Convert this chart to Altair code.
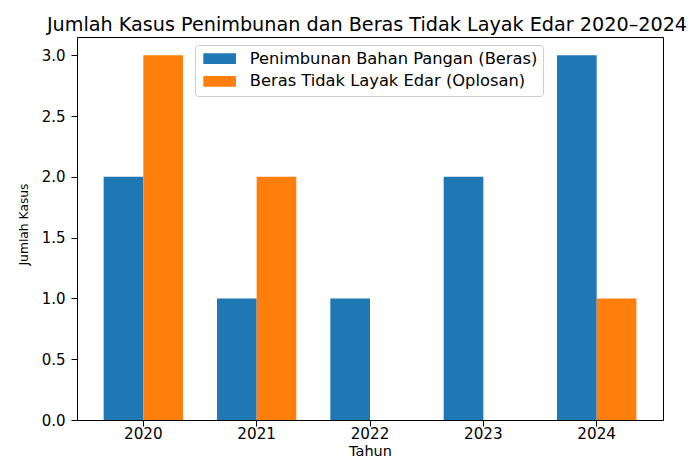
import altair as alt
import pandas as pd

years = ["2020", "2021", "2022", "2023", "2024"]
series_names = ["Penimbunan Bahan Pangan (Beras)", "Beras Tidak Layak Edar (Oplosan)"]
penimbunan = [2, 1, 1, 2, 3]
oplosan = [3, 2, 0, 0, 1]
colors = ["#1f77b4", "#ff7f0e"]
y_ticks = [0, 0.5, 1, 1.5, 2, 2.5, 3]

rows = []
for i, y in enumerate(years):
    rows.append({"Tahun": y, "Seri": series_names[0], "Jumlah": penimbunan[i]})
    rows.append({"Tahun": y, "Seri": series_names[1], "Jumlah": oplosan[i]})
df = pd.DataFrame(rows)

FONT = "DejaVu Sans"

chart = alt.Chart(df).mark_bar().encode(
    x=alt.X("Tahun:N", sort=years,
            scale=alt.Scale(paddingInner=0.3, paddingOuter=0.235),
            axis=alt.Axis(title="Tahun", labelAngle=0, tickSize=6, labelPadding=12,
                          labelBaseline="alphabetic",
                          titleBaseline="alphabetic", titleY=35,
                          domainColor="black", tickColor="black",
                          labelColor="black", titleColor="black",
                          labelFontSize=15.2, titleFontSize=14.5,
                          labelFont=FONT, titleFont=FONT, titleFontWeight="normal",
                          grid=False)),
    xOffset=alt.XOffset("Seri:N", sort=series_names, scale=alt.Scale(paddingInner=0, paddingOuter=0)),
    y=alt.Y("Jumlah:Q",
            scale=alt.Scale(domain=[0, 3.15], nice=False, zero=True),
            axis=alt.Axis(title="Jumlah Kasus", values=y_ticks,
                          format=".1f", tickSize=6, labelPadding=6, titlePadding=11,
                          titleY=187,
                          domainColor="black", tickColor="black",
                          labelColor="black", titleColor="black",
                          labelFontSize=15, titleFontSize=12.3,
                          labelFont=FONT, titleFont=FONT, titleFontWeight="normal",
                          grid=False)),
    color=alt.Color("Seri:N", sort=series_names,
                    scale=alt.Scale(domain=series_names, range=colors),
                    legend=alt.Legend(title=None, orient="none", legendX=118, legendY=8,
                                      fillColor="white", strokeColor="#cccccc",
                                      cornerRadius=3, padding=5.5,
                                      symbolType="M-2.51,-0.815H2.51V0.815H-2.51Z",
                                      symbolSize=169, symbolStrokeWidth=0,
                                      symbolOffset=11, labelOffset=22,
                                      rowPadding=5.7,
                                      labelFontSize=16.3, labelFont=FONT,
                                      labelColor="black", labelLimit=500)),
).properties(
    width=586,
    height=383,
    title=alt.Title("Jumlah Kasus Penimbunan dan Beras Tidak Layak Edar 2020–2024",
                    font=FONT, fontSize=19.2, fontWeight="normal", color="black",
                    anchor="middle", offset=2, dx=-3),
    autosize=alt.AutoSizeParams(type="none"),
    padding={"left": 69, "top": 29, "right": 25, "bottom": 37},
).configure_view(
    stroke="black", strokeWidth=1
)

chart.save("out.html", embed_options={"renderer": "svg", "actions": False})
